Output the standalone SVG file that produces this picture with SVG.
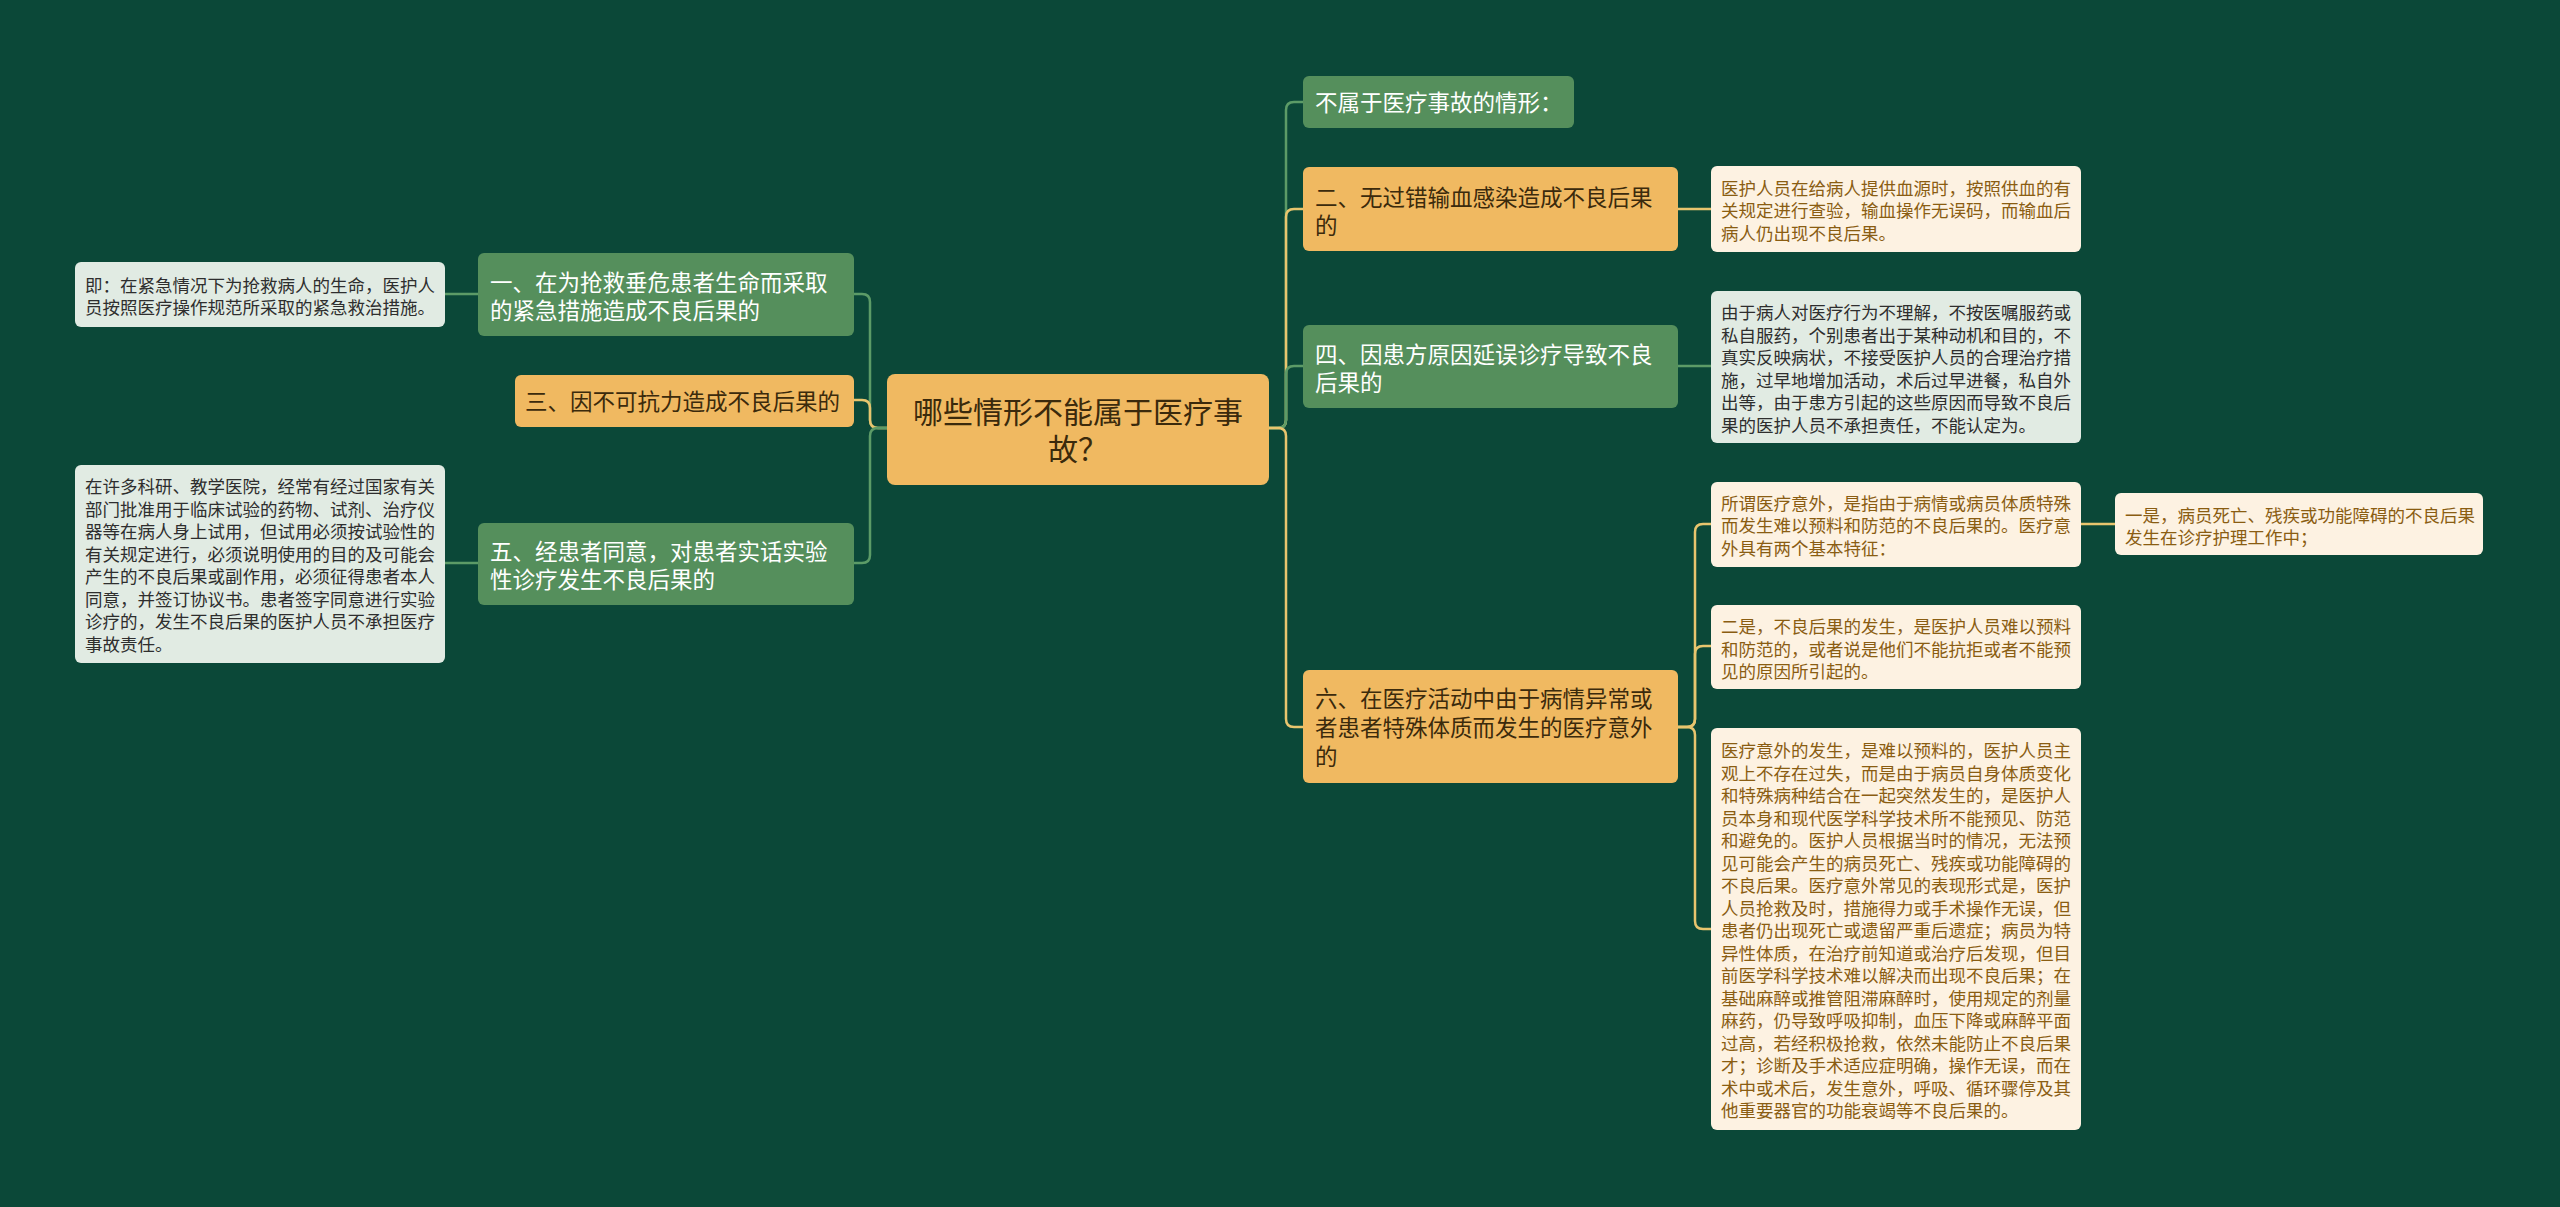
<svg xmlns="http://www.w3.org/2000/svg" width="2560" height="1207" viewBox="0 0 2560 1207">
<style>
text{font-family:"Noto Sans CJK SC","Noto Sans",sans-serif}
.bg{fill:#0b4838}
.gn{fill:#558f5c}
.yn{fill:#f0b961}
.gt{fill:#ffffff;font-size:22.5px}
.yt{fill:#3b2a0c;font-size:22.5px}
.ct{fill:#3b2a0c;font-size:30px;text-anchor:middle}
.gnote{fill:#e1ebe3}
.ynote{fill:#fdf2e2}
.gnt{fill:#2e2e2e;font-size:17.5px}
.ynt{fill:#8a5d12;font-size:17.5px}
.cg{fill:none;stroke:#5c9b67;stroke-width:2.5}
.cy{fill:none;stroke:#e8c56e;stroke-width:2.5}
</style>
<rect class="bg" x="0" y="0" width="2560" height="1207"/>
<g id="connectors">
<path class="cg" d="M887,428 H878 Q870,428 870,420 V302 Q870,294 862,294 H854"/>
<path class="cy" d="M887,428 H878 Q870,428 870,420 V408 Q870,400 862,400 H854"/>
<path class="cg" d="M887,428 H878 Q870,428 870,436 V555 Q870,563 862,563 H854"/>
<path class="cg" d="M478,294 H445"/>
<path class="cg" d="M478,563 H445"/>
<path class="cg" d="M1269,428 H1278 Q1286,428 1286,420 V110 Q1286,102 1294,102 H1303"/>
<path class="cy" d="M1269,428 H1278 Q1286,428 1286,420 V217 Q1286,209 1294,209 H1303"/>
<path class="cg" d="M1269,428 H1278 Q1286,428 1286,420 V374 Q1286,366 1294,366 H1303"/>
<path class="cy" d="M1269,428 H1278 Q1286,428 1286,436 V719 Q1286,727 1294,727 H1303"/>
<path class="cy" d="M1678,209 H1711"/>
<path class="cg" d="M1678,366 H1711"/>
<path class="cy" d="M1678,727 H1687 Q1695,727 1695,719 V532 Q1695,524 1703,524 H1711"/>
<path class="cy" d="M1678,727 H1687 Q1695,727 1695,719 V654 Q1695,646 1703,646 H1711"/>
<path class="cy" d="M1678,727 H1687 Q1695,727 1695,735 V921 Q1695,929 1703,929 H1711"/>
<path class="cy" d="M2081,524 H2115"/>
</g>
<g id="center">
<rect class="yn" x="887" y="374" width="382" height="111" rx="8"/>
<text class="ct" x="1078" y="423">哪些情形不能属于医疗事</text>
<text class="ct" x="1078" y="459.5">故？</text>
</g>
<g id="n1">
<rect class="gn" x="478" y="253" width="376" height="83" rx="6"/>
<text class="gt" x="490" y="291">一、在为抢救垂危患者生命而采取</text>
<text class="gt" x="490" y="319">的紧急措施造成不良后果的</text>
</g>
<g id="n1note">
<rect class="gnote" x="75" y="262" width="370" height="65" rx="6"/>
<text class="gnt" x="85" y="291.7">即：在紧急情况下为抢救病人的生命，医护人</text>
<text class="gnt" x="85" y="313.7">员按照医疗操作规范所采取的紧急救治措施。</text>
</g>
<g id="n3">
<rect class="yn" x="515" y="375" width="339" height="52" rx="6"/>
<text class="yt" x="525" y="410">三、因不可抗力造成不良后果的</text>
</g>
<g id="n5">
<rect class="gn" x="478" y="523" width="376" height="82" rx="6"/>
<text class="gt" x="490" y="560">五、经患者同意，对患者实话实验</text>
<text class="gt" x="490" y="588">性诊疗发生不良后果的</text>
</g>
<g id="n5note">
<rect class="gnote" x="75" y="465" width="370" height="198" rx="6"/>
<text class="gnt" x="85" y="493.4">在许多科研、教学医院，经常有经过国家有关</text>
<text class="gnt" x="85" y="515.9">部门批准用于临床试验的药物、试剂、治疗仪</text>
<text class="gnt" x="85" y="538.4">器等在病人身上试用，但试用必须按试验性的</text>
<text class="gnt" x="85" y="560.9">有关规定进行，必须说明使用的目的及可能会</text>
<text class="gnt" x="85" y="583.4">产生的不良后果或副作用，必须征得患者本人</text>
<text class="gnt" x="85" y="605.9">同意，并签订协议书。患者签字同意进行实验</text>
<text class="gnt" x="85" y="628.4">诊疗的，发生不良后果的医护人员不承担医疗</text>
<text class="gnt" x="85" y="650.9">事故责任。</text>
</g>
<g id="r0">
<rect class="gn" x="1303" y="76" width="271" height="52" rx="6"/>
<text class="gt" x="1315" y="110.5">不属于医疗事故的情形：</text>
</g>
<g id="r2">
<rect class="yn" x="1303" y="167" width="375" height="84" rx="6"/>
<text class="yt" x="1315" y="205.5">二、无过错输血感染造成不良后果</text>
<text class="yt" x="1315" y="233.5">的</text>
</g>
<g id="r2note">
<rect class="ynote" x="1711" y="166" width="370" height="86" rx="6"/>
<text class="ynt" x="1721" y="194.7">医护人员在给病人提供血源时，按照供血的有</text>
<text class="ynt" x="1721" y="217.2">关规定进行查验，输血操作无误码，而输血后</text>
<text class="ynt" x="1721" y="239.7">病人仍出现不良后果。</text>
</g>
<g id="r4">
<rect class="gn" x="1303" y="325" width="375" height="83" rx="6"/>
<text class="gt" x="1315" y="363">四、因患方原因延误诊疗导致不良</text>
<text class="gt" x="1315" y="391">后果的</text>
</g>
<g id="r4note">
<rect class="gnote" x="1711" y="291" width="370" height="152" rx="6"/>
<text class="gnt" x="1721" y="319">由于病人对医疗行为不理解，不按医嘱服药或</text>
<text class="gnt" x="1721" y="341.5">私自服药，个别患者出于某种动机和目的，不</text>
<text class="gnt" x="1721" y="364">真实反映病状，不接受医护人员的合理治疗措</text>
<text class="gnt" x="1721" y="386.5">施，过早地增加活动，术后过早进餐，私自外</text>
<text class="gnt" x="1721" y="409">出等，由于患方引起的这些原因而导致不良后</text>
<text class="gnt" x="1721" y="431.5">果的医护人员不承担责任，不能认定为。</text>
</g>
<g id="r6">
<rect class="yn" x="1303" y="670" width="375" height="113" rx="6"/>
<text class="yt" x="1315" y="706.5">六、在医疗活动中由于病情异常或</text>
<text class="yt" x="1315" y="735.5">者患者特殊体质而发生的医疗意外</text>
<text class="yt" x="1315" y="764.5">的</text>
</g>
<g id="r6a">
<rect class="ynote" x="1711" y="482" width="370" height="85" rx="6"/>
<text class="ynt" x="1721" y="509.7">所谓医疗意外，是指由于病情或病员体质特殊</text>
<text class="ynt" x="1721" y="532.2">而发生难以预料和防范的不良后果的。医疗意</text>
<text class="ynt" x="1721" y="554.7">外具有两个基本特征：</text>
</g>
<g id="r6a1">
<rect class="ynote" x="2115" y="493" width="368" height="62" rx="6"/>
<text class="ynt" x="2125" y="521.5">一是，病员死亡、残疾或功能障碍的不良后果</text>
<text class="ynt" x="2125" y="544">发生在诊疗护理工作中；</text>
</g>
<g id="r6b">
<rect class="ynote" x="1711" y="605" width="370" height="84" rx="6"/>
<text class="ynt" x="1721" y="633.2">二是，不良后果的发生，是医护人员难以预料</text>
<text class="ynt" x="1721" y="655.7">和防范的，或者说是他们不能抗拒或者不能预</text>
<text class="ynt" x="1721" y="678.2">见的原因所引起的。</text>
</g>
<g id="r6c">
<rect class="ynote" x="1711" y="728" width="370" height="402" rx="6"/>
<text class="ynt" x="1721" y="757.2">医疗意外的发生，是难以预料的，医护人员主</text>
<text class="ynt" x="1721" y="779.7">观上不存在过失，而是由于病员自身体质变化</text>
<text class="ynt" x="1721" y="802.2">和特殊病种结合在一起突然发生的，是医护人</text>
<text class="ynt" x="1721" y="824.7">员本身和现代医学科学技术所不能预见、防范</text>
<text class="ynt" x="1721" y="847.2">和避免的。医护人员根据当时的情况，无法预</text>
<text class="ynt" x="1721" y="869.7">见可能会产生的病员死亡、残疾或功能障碍的</text>
<text class="ynt" x="1721" y="892.2">不良后果。医疗意外常见的表现形式是，医护</text>
<text class="ynt" x="1721" y="914.7">人员抢救及时，措施得力或手术操作无误，但</text>
<text class="ynt" x="1721" y="937.2">患者仍出现死亡或遗留严重后遗症；病员为特</text>
<text class="ynt" x="1721" y="959.7">异性体质，在治疗前知道或治疗后发现，但目</text>
<text class="ynt" x="1721" y="982.2">前医学科学技术难以解决而出现不良后果；在</text>
<text class="ynt" x="1721" y="1004.7">基础麻醉或推管阻滞麻醉时，使用规定的剂量</text>
<text class="ynt" x="1721" y="1027.2">麻药，仍导致呼吸抑制，血压下降或麻醉平面</text>
<text class="ynt" x="1721" y="1049.7">过高，若经积极抢救，依然未能防止不良后果</text>
<text class="ynt" x="1721" y="1072.2">才；诊断及手术适应症明确，操作无误，而在</text>
<text class="ynt" x="1721" y="1094.7">术中或术后，发生意外，呼吸、循环骤停及其</text>
<text class="ynt" x="1721" y="1117.2">他重要器官的功能衰竭等不良后果的。</text>
</g>
</svg>
